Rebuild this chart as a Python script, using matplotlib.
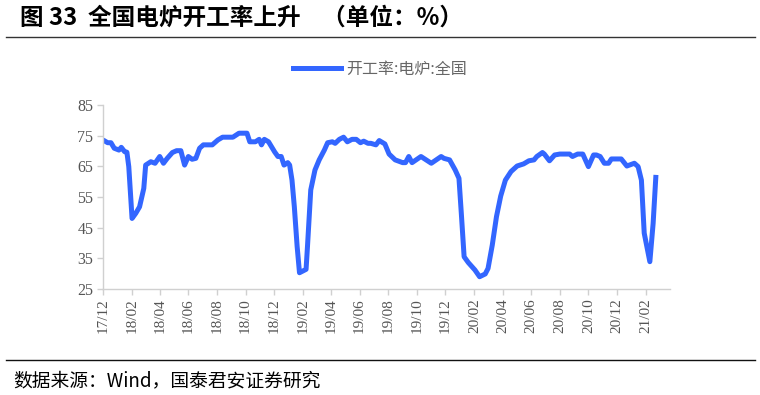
import numpy as np
import pandas as pd
import matplotlib
matplotlib.use('Agg')
import matplotlib.pyplot as plt
import matplotlib.dates as mdates
from matplotlib.lines import Line2D

plt.rcParams['font.family'] = ['Noto Sans CJK SC', 'DejaVu Sans']

# weekly-ish readings of the electric furnace operating rate (%)
dates = [
    '2017-12-01', '2017-12-11', '2017-12-18', '2017-12-25', '2018-01-04',
    '2018-01-09', '2018-01-16', '2018-01-21', '2018-01-25', '2018-02-01',
    '2018-02-09', '2018-02-17', '2018-02-26', '2018-03-02', '2018-03-13',
    '2018-03-22', '2018-04-01', '2018-04-09', '2018-04-17', '2018-04-28',
    '2018-05-07', '2018-05-16', '2018-05-24', '2018-06-01', '2018-06-09',
    '2018-06-17', '2018-06-25', '2018-07-03', '2018-07-22', '2018-08-03',
    '2018-08-13', '2018-09-04', '2018-09-17', '2018-10-04', '2018-10-10',
    '2018-10-22', '2018-10-30', '2018-11-04', '2018-11-10', '2018-11-19',
    '2018-12-02', '2018-12-09', '2018-12-16', '2018-12-22', '2018-12-30',
    '2019-01-03', '2019-01-08', '2019-01-13', '2019-01-19', '2019-01-24',
    '2019-02-07', '2019-02-10', '2019-02-17', '2019-02-26', '2019-03-07',
    '2019-03-18', '2019-03-25', '2019-04-04', '2019-04-10', '2019-04-19',
    '2019-04-28', '2019-05-06', '2019-05-16', '2019-05-25', '2019-06-03',
    '2019-06-10', '2019-06-19', '2019-06-25', '2019-07-06', '2019-07-13',
    '2019-07-25', '2019-08-03', '2019-08-16', '2019-09-01', '2019-09-07',
    '2019-09-14', '2019-09-21', '2019-10-10', '2019-11-01', '2019-11-22',
    '2019-11-28', '2019-12-10', '2019-12-22', '2019-12-30', '2020-01-04',
    '2020-01-10', '2020-01-19', '2020-02-02', '2020-02-12', '2020-02-24',
    '2020-03-01', '2020-03-10', '2020-03-19', '2020-03-28', '2020-04-07',
    '2020-04-19', '2020-05-02', '2020-05-16', '2020-05-27', '2020-06-07',
    '2020-06-13', '2020-06-25', '2020-06-29', '2020-07-10', '2020-07-21',
    '2020-08-01', '2020-08-22', '2020-08-28', '2020-09-08', '2020-09-19',
    '2020-10-01', '2020-10-12', '2020-10-18', '2020-10-26', '2020-11-04',
    '2020-11-13', '2020-11-19', '2020-12-10', '2020-12-22', '2021-01-07',
    '2021-01-15', '2021-01-22', '2021-01-28', '2021-02-09', '2021-02-16',
    '2021-02-22',
]
rate = [
    73.6, 72.7, 72.7, 70.9, 70.3,
    71.2, 69.8, 69.6, 64.9, 48.0,
    49.7, 51.8, 57.8, 65.4, 66.5,
    66.0, 68.2, 66.0, 67.6, 69.5,
    70.1, 70.1, 65.4, 68.2, 67.3,
    67.6, 70.9, 72.0, 72.0, 73.6,
    74.5, 74.5, 75.8, 75.8, 73.0,
    73.0, 73.8, 72.0, 73.8, 73.0,
    69.7, 68.2, 68.2, 65.4, 66.2,
    65.4, 60.5, 51.8, 38.8, 30.3,
    31.4, 38.8, 57.3, 63.8, 67.1,
    70.3, 72.7, 73.0, 72.5, 73.8,
    74.5, 73.0, 73.8, 73.8, 72.7,
    73.2, 72.5, 72.5, 72.0, 73.4,
    72.3, 69.0, 67.1, 66.2, 66.2,
    68.2, 66.2, 68.2, 66.0, 68.2,
    67.6, 67.1, 63.8, 61.1, 49.7,
    35.5, 33.6, 31.2, 29.0, 29.9,
    31.7, 39.3, 48.6, 55.3, 60.5,
    63.3, 65.1, 65.8, 66.8, 67.1,
    68.2, 69.5, 69.0, 66.8, 68.7,
    69.0, 69.0, 68.2, 69.0, 69.0,
    64.9, 68.7, 68.7, 68.2, 66.0,
    66.0, 67.4, 67.4, 65.1, 66.0,
    64.9, 60.5, 43.2, 33.9, 46.4,
    62.2,
]
series_name = '开工率:电炉:全国'
yticks = [25, 35, 45, 55, 65, 75, 85]

x = pd.to_datetime(dates)

fig = plt.figure(figsize=(7.6, 3.95), dpi=100)
ax = fig.add_axes([0.1355, 0.2684, 0.7461, 0.4658])

ax.plot(x, rate, color='#3366ff', lw=3.6, solid_joinstyle='round',
        solid_capstyle='butt')

ax.set_ylim(25, 85)
ax.set_yticks(yticks)
ax.set_xlim(pd.Timestamp('2017-12-01'), pd.Timestamp('2021-03-24'))
tick_dates = pd.date_range('2017-12-01', '2021-02-01', freq='2MS')
ax.set_xticks(tick_dates)
ax.set_xticklabels([d.strftime('%y/%m') for d in tick_dates], rotation=90,
                   family='Liberation Serif', fontsize=11, color='#555555')
for lab in ax.get_yticklabels():
    lab.set_family('Liberation Serif')
    lab.set_fontsize(11.5)
    lab.set_color('#555555')

for s in ['top', 'right']:
    ax.spines[s].set_visible(False)
for s in ['left', 'bottom']:
    ax.spines[s].set_color('#d0d0d0')
    ax.spines[s].set_linewidth(1.0)
ax.tick_params(axis='both', direction='out', color='#d0d0d0', length=4,
               width=1.0, pad=3)

handle = Line2D([], [], color='#3366ff', lw=3.6)
fig.legend([handle], [series_name], loc='center', bbox_to_anchor=(0.5, 0.825),
           frameon=False, handlelength=3.0, handletextpad=0.3,
           prop={'size': 11.5}, labelcolor='#666666')

# title and source lines
fig.text(0.026, 0.955, '图 33  全国电炉开工率上升    （单位：%）', fontsize=17,
         fontweight='bold', va='center', ha='left')
fig.add_artist(Line2D([0.008, 0.993], [0.906, 0.906], color='#333333', lw=1.0))
fig.add_artist(Line2D([0.008, 0.993], [0.088, 0.088], color='#111111', lw=1.0))
fig.text(0.018, 0.037, '数据来源：Wind，国泰君安证券研究', fontsize=13.5,
         va='center', ha='left')

fig.savefig('out.png', dpi=100)
